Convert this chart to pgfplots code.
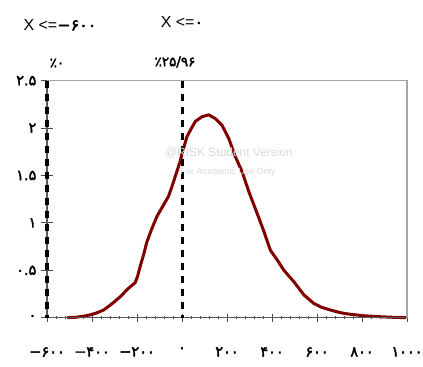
\documentclass[border=0pt]{standalone}
\usepackage{pgfplots}
\pgfplotsset{compat=1.18}
\usepackage{fontspec}
\setmainfont{Liberation Sans}
\newfontfamily\fa{DejaVu Sans}
\newfontfamily\fab{DejaVu Sans}[FakeBold=2.5]
\definecolor{curve}{RGB}{128,0,0}
\begin{document}
\begin{tikzpicture}[x=1bp,y=1bp]
\path[use as bounding box] (0,0) rectangle (423,367);
\begin{axis}[
 at={(47bp,49.3bp)}, anchor=south west,
 scale only axis, width=360bp, height=237bp,
 xmin=-600,xmax=1000,ymin=0,ymax=2.5,
 clip=false,
 axis line style={draw=none},
 xtick pos=bottom, ytick pos=left,
 xtick={-600,-400,...,1000},
 xticklabels={−۶۰۰,−۴۰۰,−۲۰۰,۰,۲۰۰,۴۰۰,۶۰۰,۸۰۰,۱۰۰۰},
 ytick={0,0.5,1,1.5,2,2.5},
 yticklabels={۰,۰.۵,۱,۱.۵,۲,۲.۵},
 ticklabel style={font=\fab\fontsize{14.5}{16}\selectfont},
 xticklabel style={yshift=-24bp},
 yticklabel style={xshift=-5bp},
 tick align=center,
 xtick style={black!70, line width=1bp, /pgfplots/major tick length=8bp},
 ytick style={black!70, line width=1bp, /pgfplots/major tick length=12bp},
 minor x tick num=4,
 minor tick length=3bp,
 minor tick style={black!50, line width=0.6bp},
]
\addplot[curve, line width=3bp, line join=round] coordinates {
(-510,0.00)(-470,0.005)(-440,0.015)(-408,0.03)(-380,0.05)(-349,0.08)(-312,0.145)(-275,0.22)
(-238,0.31)(-208,0.37)(-197,0.44)(-186,0.54)(-170,0.67)(-156,0.80)(-134,0.94)(-111,1.07)
(-82,1.19)(-60,1.28)(-45,1.38)(-30,1.49)(-8,1.65)(0,1.73)(22,1.91)(40,1.99)(59,2.07)
(89,2.12)(119,2.14)(148,2.10)(178,2.03)(208,1.89)(237,1.70)(267,1.54)(297,1.33)
(334,1.10)(364,0.91)(393,0.71)(423,0.61)(453,0.50)(497,0.38)(542,0.24)(586,0.15)
(620,0.11)(661,0.08)(700,0.055)(735,0.04)(809,0.02)(883,0.01)(940,0.004)(995,0.00)
};
\draw[gray!70, line width=1.5bp] (rel axis cs:0,1) -- (rel axis cs:1,1) -- (rel axis cs:1,0);
\draw[black!65, line width=1.5bp] (rel axis cs:0,1) -- (rel axis cs:0,0) -- (rel axis cs:1,0);
\addplot[black, line width=3bp, dash pattern=on 7bp off 6bp] coordinates {(-600,2.5)(-600,0)};
\addplot[black, line width=3bp, dash pattern=on 7bp off 6bp] coordinates {(0,2.5)(0,0)};
\end{axis}
\node[font=\fontsize{16}{18}\selectfont] at (60,342) {X <={\fab −۶۰۰}};
\node[font=\fontsize{16}{18}\selectfont] at (182,345) {X <={\fab ۰}};
\node[font=\fab\fontsize{13.5}{15}\selectfont] at (57,304) {٪۰};
\node[font=\fab\fontsize{13.5}{15}\selectfont] at (175,305) {٪۲۵/۹۶};
\node[text=gray!30, font=\fontsize{12}{14}\selectfont] at (229,214) {@RISK Student Version};
\node[text=gray!30, font=\fontsize{9}{11}\selectfont] at (228,195) {For Academic Use Only};
\end{tikzpicture}
\end{document}
